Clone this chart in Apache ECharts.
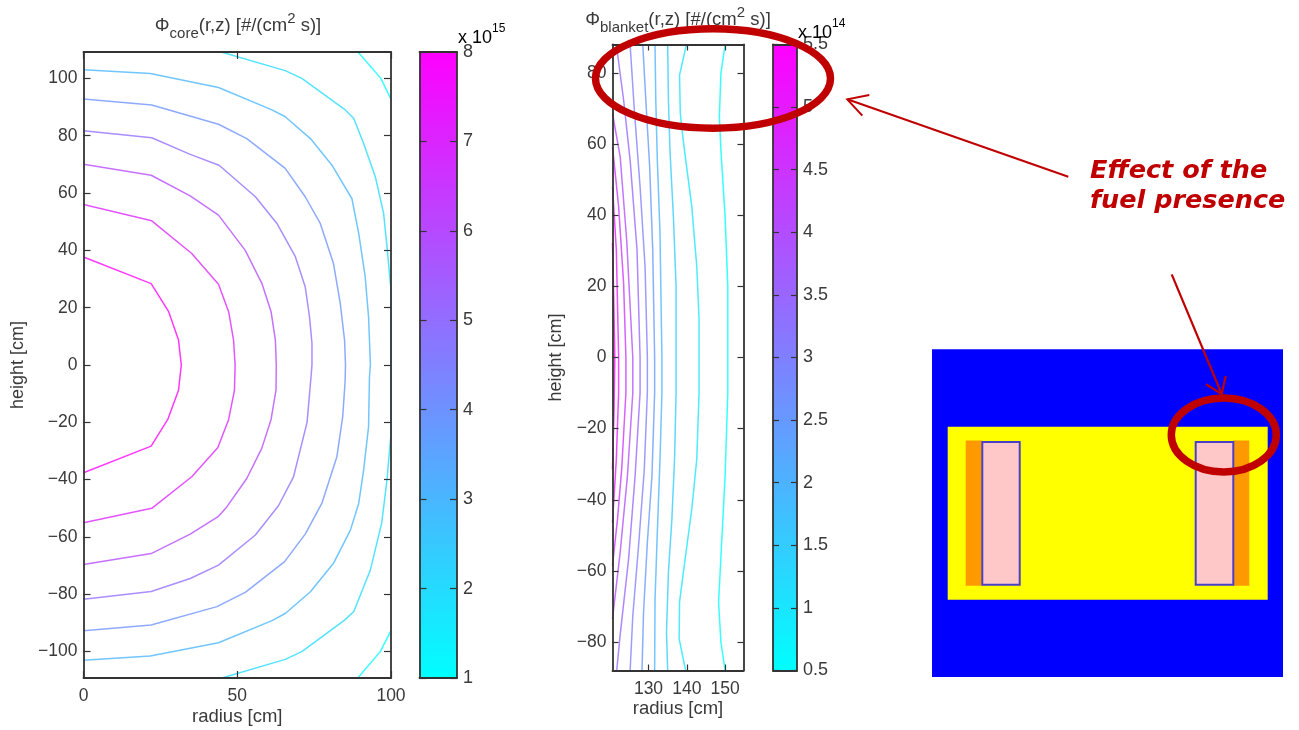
<!DOCTYPE html>
<html><head><meta charset="utf-8">
<style>html,body{margin:0;padding:0;background:#fff}#c{width:1299px;height:730px}</style>
<script src="https://cdn.jsdelivr.net/npm/echarts@6/dist/echarts.min.js"></script>
</head><body><div id="c"></div>
<script>
// ---- Core flux contours, [radius cm, height cm] per level
const coreLevels = [8,7,6,5,4,3,2,1];
const core8 = [[0,37.7],[22,28.4],[27.7,18.6],[30.9,8.7],[31.8,0],[30.9,-8.8],[27.4,-19],[22,-28.3],[0,-37.6]];
const core7 = [[0,56],[22.2,50.3],[35.2,38.9],[43.9,28.2],[47.2,18.6],[48.8,8.7],[49.3,0],[49.1,-8.8],[47.2,-19],[43.7,-28.8],[35.2,-39],[22.2,-50],[0,-55]];
const core6 = [[0,70],[22,66.2],[34.7,59],[43.9,52.3],[52.6,40],[58,28.5],[61,18.6],[62.4,8.7],[62.7,0],[62.6,-8.8],[61,-19],[58,-29],[53.1,-39.6],[46.6,-49.5],[43.9,-52.8],[34.7,-59],[22,-65.8],[0,-69.6]];
const core5 = [[0,81.7],[22.2,79.3],[34.7,73.5],[44.1,69.7],[55.9,58.7],[62.9,49.4],[68.9,37.8],[72.1,27.3],[73.5,16.8],[74.3,7.6],[74.3,0],[74,-4],[72.7,-20],[68.3,-39],[63.4,-49.1],[55.9,-59.3],[43.9,-69.8],[34.7,-74.5],[22,-79],[0,-81.7]];
const core4 = [[0,92.8],[22.2,90.7],[43.9,84],[53.1,79],[65.6,68.6],[72.1,58.7],[77,49.4],[81.3,35.4],[83.5,21.5],[84.9,8.7],[85.2,0],[85.1,-5.3],[84.3,-18],[82.4,-32],[77.5,-48.3],[72.1,-59],[65.4,-68.6],[52.6,-79.3],[43.4,-84.3],[22,-90.7],[0,-92.7]];
const core3 = [[0,103],[21.7,101.7],[43.9,96.8],[61.3,89],[65.6,86.6],[73.8,79],[80.8,69.7],[87.3,58],[89.5,45.9],[91.6,30.8],[92.7,16.8],[93.3,0],[93,-4.1],[92.7,-21.5],[91.1,-36.7],[89.5,-48.3],[86.8,-57.6],[81.3,-69.2],[73.8,-79.1],[65.6,-86.7],[61.3,-89.2],[43.9,-96.9],[21.7,-101.5],[0,-103]];
const core2 = [[44.5,109.3],[65.6,102.7],[71,100],[84.9,89.2],[87.9,86],[91.1,77.3],[94.9,65.7],[97.6,52.9],[98.7,41.3],[100,26],[100,-24],[98.7,-40],[97,-55],[93.3,-71.5],[87.9,-86],[84.9,-89],[71,-100],[65.6,-102.7],[45,-109.2]];
const core1a = [[89.2,109.3],[96.7,100],[100,92.7]];
const core1b = [[100,-92.7],[96.5,-100],[89.2,-109.2]];

// ---- Blanket flux contours
const blanketLevels = [0.5,1,1.5,2,2.5,3,3.5,4,4.5,5,5.5];
const blanket05 = [[150,88],[148.9,79.9],[148.5,67.7],[148.9,58.3],[150,39.6],[150.7,20],[150.7,0],[150.7,-9.9],[150,-33.3],[149.1,-52],[148.3,-68.8],[148.9,-80],[150,-88]];
const blanket10 = [[139.9,88],[138.1,79.4],[138.3,68.6],[139.1,60.7],[141.3,42.4],[142.6,25.6],[143.2,10.7],[143.2,0],[143.2,-9.9],[142.6,-28.6],[141.3,-42.6],[139.1,-60.4],[138.1,-68.8],[138,-79.1],[139.7,-88]];
const blanket15 = [[135,88],[135.2,72.4],[135.6,58.3],[136.5,39.6],[137.2,20],[137.2,0],[137.2,-9.9],[136.8,-28.6],[136.1,-45.5],[135.2,-60.4],[134.7,-77.2],[135,-88]];
const blanket20 = [[131.7,88],[131.9,72.4],[132.3,55.5],[133,35],[133.5,0],[133.5,-9.9],[133,-28.6],[132.3,-49.2],[131.7,-68],[131.6,-88]];
const blanket25 = [[128.5,88],[129.3,72.4],[130.3,53.7],[131.1,30.3],[131.6,0],[131.6,-9.9],[130.9,-33.3],[129.7,-52],[128.7,-71.6],[128.3,-88]];
const blanket30 = [[125.2,88],[126.3,69.6],[127.8,48],[129.1,25.6],[129.7,0],[129.7,-9.9],[128.9,-31.4],[127.4,-53],[125.9,-72.6],[125.2,-88]];
const blanket35 = [[121.6,88],[123.5,72.4],[125.2,55.5],[127,30.3],[127.8,0],[127.8,-9.9],[126.5,-33.3],[124.8,-56.7],[122.6,-78],[121.7,-88]];
const blanket40 = [[120.6,68.6],[122.6,56.5],[124.3,33.1],[125.9,0],[125.9,-9.9],[124.5,-33.3],[122.6,-54.8],[120.6,-73.5]];
const blanket45 = [[120.6,59.3],[122.2,42.4],[123.5,20.9],[124.1,0],[124.1,-9.9],[123,-31.4],[121.9,-45.5],[120.6,-58.5]];
const blanket50 = [[120.6,48],[121.6,30.3],[122.2,0],[122.2,-9.9],[121.6,-28.6],[120.6,-46.4]];
const blanket55 = [[120.6,32.2],[120.9,18],[121.2,0],[121,-14.6],[120.6,-31.4]];

// ---- Tick labels
const coreRadiusTicks = [0,50,100];
const coreHeightTicks = [-100,-80,-60,-40,-20,0,20,40,60,80,100];
const blanketRadiusTicks = [130,140,150];
const blanketHeightTicks = [-80,-60,-40,-20,0,20,40,60,80];

// ---- Reactor schematic regions [x0,y0,x1,y1]
const regionBlue = [0,0,351,328];
const regionYellow = [15.7,77.4,335.7,250.7];
const regionOrangeLeft = [33.7,91.4,49.7,236.7];
const regionOrangeRight = [301.3,91.4,317.3,236.7];
const regionPinkLeft = [50.3,92.7,87.7,235.7];
const regionPinkRight = [263.7,92.7,301.3,235.7];

const INK='#333', TXT='#3a3a3a', RED='#c00000', FONT='"Liberation Sans",Arial,sans-serif';
const cool=t=>`rgb(${Math.round(255*t)},${Math.round(255*(1-t))},255)`;
const coreColor=v=>cool((v-1)/7), blanketColor=v=>cool((v-.5)/5);
const minus=v=>String(v).replace('-','\u2212');

const grids=[], xAxes=[], yAxes=[], series=[];
function frame(g,xo,yo){
  const gi=grids.length; grids.push({outerBoundsMode:'none',...g});
  const base={gridIndex:gi,type:'value',z:6,splitLine:{show:false},nameMoveOverlap:false,
    axisLine:{show:true,onZero:false,lineStyle:{color:INK,width:1.8}}};
  const tick=(vals)=>({show:true,inside:true,length:yo.tickLen||6,lineStyle:{color:INK,width:1.2},...(vals?{customValues:vals}:{})});
  const xi=xAxes.length;
  const fs=yo.labelSize||17.5;
  xAxes.push({...base,position:'bottom',min:xo.min,max:xo.max,
    axisTick:xo.ticks?tick(xo.ticks):{show:false},
    axisLabel:xo.ticks?{show:true,customValues:xo.ticks,color:TXT,fontSize:fs,fontFamily:FONT,margin:xo.margin||8,formatter:minus}:{show:false},
    name:xo.name,nameLocation:'middle',nameGap:xo.nameGap,nameTextStyle:{color:TXT,fontSize:18.5,fontFamily:FONT}});
  xAxes.push({...base,position:'top',min:xo.min,max:xo.max,axisTick:xo.ticks?tick(xo.ticks):{show:false},axisLabel:{show:false}});
  const yi=yAxes.length;
  const yt=yo.ticks?{customValues:yo.ticks}:{};
  yAxes.push({...base,position:yo.labelRight?'right':'left',min:yo.min,max:yo.max,interval:yo.interval,
    axisTick:tick(yo.ticks),
    axisLabel:{show:true,...yt,color:TXT,fontSize:fs,fontFamily:FONT,margin:6,formatter:minus},
    name:yo.name,nameLocation:'middle',nameGap:yo.nameGap,nameTextStyle:{color:TXT,fontSize:18,fontFamily:FONT}});
  yAxes.push({...base,position:yo.labelRight?'left':'right',min:yo.min,max:yo.max,interval:yo.interval,
    axisTick:tick(yo.ticks),axisLabel:{show:false}});
  return {xi,yi};
}
function contour(ax,data,color){
  series.push({type:'line',xAxisIndex:ax.xi,yAxisIndex:ax.yi,data,symbol:'none',smooth:false,clip:true,silent:true,
    lineStyle:{color,width:1.5,opacity:0.78},z:3});
}
function colorbar(ax,lo,hi){
  series.push({type:'custom',xAxisIndex:ax.xi,yAxisIndex:ax.yi,clip:true,silent:true,z:2,
    data:[[0,lo,1,hi]],encode:{x:[0,2],y:[1,3]},
    renderItem:(p,api)=>{
      const a=api.coord([api.value(0),api.value(1)]), b=api.coord([api.value(2),api.value(3)]);
      return {type:'rect',shape:{x:a[0],y:b[1],width:b[0]-a[0],height:a[1]-b[1]},
        style:{fill:new echarts.graphic.LinearGradient(0,1,0,0,[{offset:0,color:cool(0)},{offset:1,color:cool(1)}])}};
    }});
}

// Core panel
const coreAx=frame({left:83.5,top:52,width:307.5,height:626},
  {min:0,max:100,ticks:coreRadiusTicks,name:'radius [cm]',nameGap:29,margin:9},
  {min:-109.2,max:109.2,ticks:coreHeightTicks,name:'height [cm]',nameGap:56,tickLen:7});
[core8,core7,core6,core5,core4,core3,core2].forEach((d,i)=>contour(coreAx,d,coreColor(coreLevels[i])));
contour(coreAx,core1a,coreColor(1)); contour(coreAx,core1b,coreColor(1));

// Core colour bar
const coreBar=frame({left:419.5,top:52,width:37.5,height:626},
  {min:0,max:1},{min:1,max:8,interval:1,labelRight:true,tickLen:7,labelSize:18});
colorbar(coreBar,1,8);

// Blanket panel
const blanketAx=frame({left:612.5,top:44.5,width:131,height:626},
  {min:120.6,max:154.8,ticks:blanketRadiusTicks,name:'radius [cm]',nameGap:29,margin:10},
  {min:-88,max:88,ticks:blanketHeightTicks,name:'height [cm]',nameGap:47,tickLen:6});
[blanket05,blanket10,blanket15,blanket20,blanket25,blanket30,blanket35,blanket40,blanket45,blanket50,blanket55]
  .forEach((d,i)=>contour(blanketAx,d,blanketColor(blanketLevels[i])));

// Blanket colour bar
const blanketBar=frame({left:773,top:44.5,width:24,height:626},
  {min:0,max:1},{min:0.5,max:5.5,interval:0.5,labelRight:true,tickLen:6,labelSize:18});
colorbar(blanketBar,0.5,5.5);

// Reactor schematic on a hidden grid
const regionNames=[regionBlue,regionYellow,regionOrangeLeft,regionOrangeRight,regionPinkLeft,regionPinkRight];
const regionFill=['#0000ff','#ffff00','#ff9900','#ff9900','#ffc8c8','#ffc8c8'];
const regionEdge=[null,null,null,null,'#4a40c8','#4a40c8'];
grids.push({outerBoundsMode:'none',left:932,top:349.3,width:351,height:327.7});
const sg=grids.length-1, sx=xAxes.length, sy=yAxes.length;
xAxes.push({gridIndex:sg,type:'value',min:0,max:351,show:false});
yAxes.push({gridIndex:sg,type:'value',min:0,max:328,inverse:true,show:false});
series.push({type:'custom',xAxisIndex:sx,yAxisIndex:sy,silent:true,z:2,clip:false,
  data:regionNames.map((r,i)=>[...r,i]),encode:{x:[0,2],y:[1,3]},
  renderItem:(p,api)=>{
    const a=api.coord([api.value(0),api.value(1)]), b=api.coord([api.value(2),api.value(3)]), i=api.value(4);
    return {type:'rect',shape:{x:a[0],y:a[1],width:b[0]-a[0],height:b[1]-a[1]},
      style:{fill:regionFill[i],stroke:regionEdge[i],lineWidth:regionEdge[i]?2:0}};
  }});

const titleRich=()=>({
  b:{fontSize:18.5,fontWeight:'normal',color:TXT,fontFamily:FONT,verticalAlign:'middle',lineHeight:30},
  sub:{fontSize:15,fontWeight:'normal',color:TXT,fontFamily:FONT,verticalAlign:'bottom',lineHeight:18},
  sup:{fontSize:15,fontWeight:'normal',color:TXT,fontFamily:FONT,verticalAlign:'top',lineHeight:14}
});
const expRich={b:{fontSize:18,color:TXT,fontFamily:FONT,verticalAlign:'bottom',lineHeight:24},
  sup:{fontSize:12,color:TXT,fontFamily:FONT,verticalAlign:'top',lineHeight:16}};
const arrow=(pts,w)=>({type:'polyline',z:100,shape:{points:pts},style:{stroke:RED,lineWidth:w,fill:'none'}});
const ring=(cx,cy,rx,ry)=>({type:'ellipse',z:101,shape:{cx,cy,rx,ry},style:{stroke:RED,lineWidth:7.5,fill:'none'}});

const graphic=[
  {type:'text',z:50,x:458,y:23,style:{rich:expRich,text:'{b|x 10}{sup|15}'}},
  {type:'text',z:50,x:798,y:18,style:{rich:expRich,text:'{b|x 10}{sup|14}'}},
  ring(713,78.5,117.5,49.7),
  ring(1223.8,435,52.5,37),
  arrow([[1068.3,176.7],[847.3,99.3]],2),
  arrow([[869.3,95],[847.3,99.3],[862.3,115.7]],2),
  arrow([[1171.7,274.3],[1221.7,394]],2.2),
  arrow([[1206,384.3],[1221.7,394],[1225.7,376]],2.2),
  {type:'text',z:100,x:1090,y:171,style:{text:'Effect of the',fill:RED,font:'italic bold 25.5px "DejaVu Sans"',verticalAlign:'middle'}},
  {type:'text',z:100,x:1090,y:201.7,style:{text:'fuel presence',fill:RED,font:'italic bold 25.5px "DejaVu Sans"',verticalAlign:'middle'}}
];

const chart=echarts.init(document.getElementById('c'),null,{renderer:'canvas'});
chart.setOption({
  animation:false,backgroundColor:'#fff',
  title:[
    {text:'{b|\u03A6}{sub|core}{b|(r,z) [#/(cm}{sup|2}{b| s)]}',left:233,top:6,textAlign:'center',textStyle:{fontWeight:'normal',rich:titleRich()}},
    {text:'{b|\u03A6}{sub|blanket}{b|(r,z) [#/(cm}{sup|2}{b| s)]}',left:673,top:0,textAlign:'center',textStyle:{fontWeight:'normal',rich:titleRich()}}
  ],
  grid:grids,xAxis:xAxes,yAxis:yAxes,series,graphic
});
</script></body></html>
